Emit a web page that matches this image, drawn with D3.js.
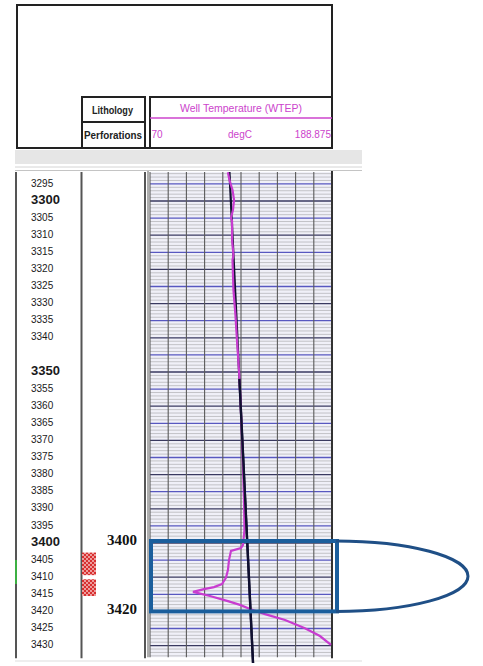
<!DOCTYPE html>
<html><head><meta charset="utf-8">
<script src="https://cdn.jsdelivr.net/npm/d3@7/dist/d3.min.js"></script>
<style>
html,body{margin:0;padding:0;background:#fff;}
svg{display:block;}
</style></head>
<body>
<script>
// ---------- DATA ----------
const trackTitle = "Well Temperature (WTEP)";
const tempMin = 70, tempMax = 188.875;
const tempTickLabels = ["70", "degC", "188.875"];
const depthTop = 3291.5, depthBottom = 3433.4;
const depthLabels = [3295,3300,3305,3310,3315,3320,3325,3330,3335,3340,3350,3355,3360,3365,3370,3375,3380,3385,3390,3395,3400,3405,3410,3415,3420,3425,3430];
const boldDepths = [3300, 3350, 3400];
// temperature log (depth ft, degC)
const logDepth = [3291.6,3293.9,3296.8,3299.7,3302.6,3305.0,3305.8,3311.4,3315.8,3317.3,3326.0,3333.3,3340.6,3349.4,3358.2,3372.8,3387.4,3396.2,3400.6,3401.5,3402.3,3405.0,3407.9,3410.2,3412.0,3412.9,3413.5,3414.3,3415.5,3417.0,3418.1,3419.3,3420.8,3422.5,3424.9,3427.2,3429.8];
const logTemp  = [120.9,121.9,123.9,124.9,124.2,122.9,123.6,123.6,124.5,123.9,124.5,125.8,126.8,128.1,129.1,130.4,131.4,131.7,130.7,129.4,122.9,121.6,120.9,119.6,117.0,111.8,105.3,98.1,109.2,120.9,128.8,135.3,145.1,158.2,171.2,181.0,188.2];
// geothermal gradient line (depth, degC)
const gradDepth = [3291.5, 3435.1];
const gradTemp  = [121.9, 137.3];
// perforation intervals
const perfTop = [3402.8, 3410.6];
const perfBase = [3409.4, 3415.5];
// highlighted interval
const zoneDepths = [3400, 3420];
const zoneLabels = ["3400", "3420"];

// ---------- LAYOUT ----------
const W = 483, H = 666;
const svg = d3.select("body").append("svg").attr("width", W).attr("height", H);

const y = d3.scaleLinear().domain([3300, 3400]).range([201, 543]);
const x = d3.scaleLinear().domain([tempMin, tempMax]).range([150, 332]);

const trackTopY = y(depthTop), trackBotY = y(depthBottom);
const sans = "'Liberation Sans',Arial,sans-serif";

// header
const hdr = svg.append("g");
hdr.append("rect").attr("x",17).attr("y",5).attr("width",315).attr("height",143)
  .attr("fill","#fff").attr("stroke","#222").attr("stroke-width",2);
hdr.append("rect").attr("x",82).attr("y",97).attr("width",63).attr("height",51)
  .attr("fill","#fff").attr("stroke","#222").attr("stroke-width",2);
hdr.append("line").attr("x1",82).attr("x2",145).attr("y1",122).attr("y2",122).attr("stroke","#222").attr("stroke-width",2);
hdr.append("text").attr("x",92).attr("y",114)
  .attr("font-family",sans).attr("font-weight","bold").attr("font-size",11).attr("fill","#222")
  .attr("textLength",41).attr("lengthAdjust","spacingAndGlyphs").text("Lithology");
hdr.append("text").attr("x",84).attr("y",139)
  .attr("font-family",sans).attr("font-weight","bold").attr("font-size",11).attr("fill","#222")
  .attr("textLength",58).attr("lengthAdjust","spacingAndGlyphs").text("Perforations");
hdr.append("rect").attr("x",150).attr("y",97).attr("width",182).attr("height",51)
  .attr("fill","#fff").attr("stroke","#222").attr("stroke-width",2);
hdr.append("line").attr("x1",150).attr("x2",332).attr("y1",118).attr("y2",118).attr("stroke","#cc44cc").attr("stroke-width",1.5);
hdr.append("text").attr("x",180).attr("y",112)
  .attr("font-family",sans).attr("font-size",11).attr("fill","#cc44cc")
  .attr("textLength",122).attr("lengthAdjust","spacingAndGlyphs").text(trackTitle);
const tickPos = [tempMin, (tempMin+tempMax)/2, tempMax];
const anchors = ["start","middle","end"];
hdr.selectAll("text.tk").data(tempTickLabels).join("text").attr("class","tk")
  .attr("x",(d,i)=> i===0 ? x(tickPos[i])+1.5 : (i===2 ? x(tickPos[i])-1 : x(tickPos[i])-1))
  .attr("y",138).attr("text-anchor",(d,i)=>anchors[i])
  .attr("font-family",sans).attr("font-size",10).attr("fill","#cc44cc").text(d=>d);

// gray band
svg.append("rect").attr("x",15).attr("y",150).attr("width",347).attr("height",14).attr("fill","#e6e6e6");
svg.append("line").attr("x1",15).attr("x2",362).attr("y1",167).attr("y2",167).attr("stroke","#d4d4d4").attr("stroke-width",1);
svg.append("line").attr("x1",15).attr("x2",362).attr("y1",170.5).attr("y2",170.5).attr("stroke","#c4c4c4").attr("stroke-width",1);

// column borders
[16, 81.5, 145].forEach(cx=>{
  svg.append("line").attr("x1",cx).attr("x2",cx).attr("y1",172).attr("y2",trackBotY+1)
    .attr("stroke","#555").attr("stroke-width",2);
});
svg.append("line").attr("x1",15).attr("x2",362).attr("y1",661).attr("y2",661).attr("stroke","#ddd").attr("stroke-width",1);
// green marker on depth column border
svg.append("line").attr("x1",16).attr("x2",16).attr("y1",y(3405)).attr("y2",y(3412))
  .attr("stroke","#3cb043").attr("stroke-width",2);

// depth labels
svg.selectAll("text.dl").data(depthLabels).join("text").attr("class","dl")
  .attr("x",31).attr("y",d=>y(d)).attr("dominant-baseline","middle")
  .attr("font-family",sans)
  .attr("font-size",d=>boldDepths.includes(d)?13:10)
  .attr("font-weight",d=>boldDepths.includes(d)?"bold":"normal")
  .attr("fill","#1a1a1a").text(d=>d);

// perforation pattern
const defs = svg.append("defs");
const pat = defs.append("pattern").attr("id","perf").attr("patternUnits","userSpaceOnUse")
  .attr("width",4).attr("height",4);
pat.append("rect").attr("width",4).attr("height",4).attr("fill","#d83030");
pat.append("circle").attr("cx",1).attr("cy",1).attr("r",0.9).attr("fill","#f8d0d0");
pat.append("circle").attr("cx",3).attr("cy",3).attr("r",0.9).attr("fill","#f8d0d0");
svg.selectAll("rect.perf").data(perfTop).join("rect").attr("class","perf")
  .attr("x",82).attr("width",14)
  .attr("y",(d)=>y(d)).attr("height",(d,i)=>y(perfBase[i])-y(d))
  .attr("fill","url(#perf)");

// zone labels in perforation column
svg.selectAll("text.zl").data(zoneLabels).join("text").attr("class","zl")
  .attr("x",122).attr("y",(d,i)=>y(zoneDepths[i])-1).attr("dominant-baseline","middle")
  .attr("text-anchor","middle").attr("font-family","'Liberation Serif','Times New Roman',serif")
  .attr("font-size",15).attr("font-weight","bold").attr("fill","#111")
  .attr("textLength",30).attr("lengthAdjust","spacingAndGlyphs").text(d=>d);

// temperature track grid
const tr = svg.append("g");
defs.append("clipPath").attr("id","trk").append("rect")
  .attr("x",x(tempMin)).attr("y",trackTopY).attr("width",x(tempMax)-x(tempMin)).attr("height",trackBotY-trackTopY);
tr.append("rect").attr("x",x(tempMin)).attr("y",trackTopY).attr("width",x(tempMax)-x(tempMin))
  .attr("height",trackBotY-trackTopY).attr("fill","#f0f0f8");
const minorD = d3.range(Math.ceil(depthTop), depthBottom, 1).filter(d=>d%5!==0);
tr.selectAll("line.mn").data(minorD).join("line").attr("class","mn")
  .attr("x1",x(tempMin)).attr("x2",x(tempMax)).attr("y1",d=>y(d)).attr("y2",d=>y(d))
  .attr("stroke","#b6b6ba").attr("stroke-width",0.8);
const majorD = d3.range(Math.ceil(depthTop/5)*5, depthBottom, 5);
tr.selectAll("line.mj").data(majorD).join("line").attr("class","mj")
  .attr("x1",x(tempMin)).attr("x2",x(tempMax)).attr("y1",d=>y(d)).attr("y2",d=>y(d))
  .attr("stroke",d=> d%10===0 ? "#3a3a60" : "#5858c0").attr("stroke-width",1.3);
const vT = d3.range(0, 11).map(i=>tempMin + i*(tempMax-tempMin)/10);
tr.selectAll("line.vt").data(vT).join("line").attr("class","vt")
  .attr("x1",d=>x(d)).attr("x2",d=>x(d)).attr("y1",trackTopY).attr("y2",trackBotY)
  .attr("stroke","#5a5a5a").attr("stroke-width",1.1);
tr.append("line").attr("x1",148).attr("x2",148).attr("y1",trackTopY-1).attr("y2",trackBotY)
  .attr("stroke","#777").attr("stroke-width",1.2);
tr.append("line").attr("x1",x(tempMax)).attr("x2",x(tempMax)).attr("y1",trackTopY-1).attr("y2",trackBotY+1)
  .attr("stroke","#333").attr("stroke-width",2);

// gradient line (under)
const gradData = gradDepth.map((d,i)=>({d, t:gradTemp[i]}));
const gLine = d3.line().x(p=>x(p.t)).y(p=>y(p.d));
svg.append("path").attr("d",gLine(gradData)).attr("fill","none").attr("stroke","#101030").attr("stroke-width",2.2);

// temperature log
const logData = logDepth.map((d,i)=>({d, t:logTemp[i]}));
svg.append("path").attr("clip-path","url(#trk)").attr("d",d3.line().x(p=>x(p.t)).y(p=>y(p.d))(logData))
  .attr("fill","none").attr("stroke","#c83cd0").attr("stroke-width",2.2);

// gradient line (over, lower section)
const gradInterp = d3.scaleLinear().domain(gradDepth).range(gradTemp);
const overData = [{d:3352, t:gradInterp(3352)}, gradData[1]];
svg.append("path").attr("d",gLine(overData)).attr("fill","none").attr("stroke","#101030").attr("stroke-width",2.4);

// highlighted zone box + ellipse
const zTop = y(zoneDepths[0]) - 2, zBot = y(zoneDepths[1]);
svg.append("rect").attr("x",151).attr("y",zTop).attr("width",186).attr("height",zBot-zTop)
  .attr("fill","none").attr("stroke","#1b5e9c").attr("stroke-width",4);
const ecx = 336, ery = (zBot-zTop)/2, erx = 132;
svg.append("path")
  .attr("d",`M${ecx},${zTop} A${erx},${ery} 0 0 1 ${ecx},${zBot}`)
  .attr("fill","none").attr("stroke","#1f4f86").attr("stroke-width",3);
</script>
</body></html>
